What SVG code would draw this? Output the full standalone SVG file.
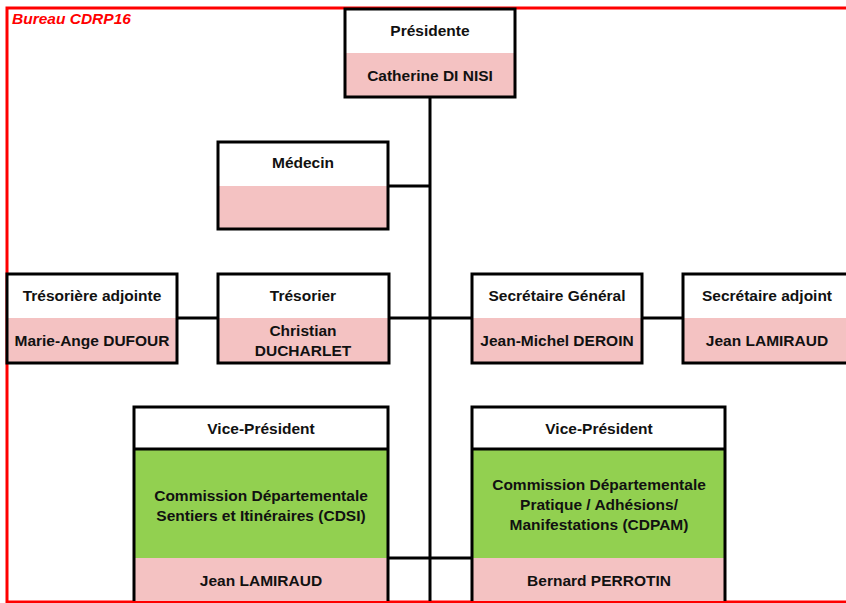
<svg xmlns="http://www.w3.org/2000/svg" width="846" height="603" viewBox="0 0 846 603">
<style>
.t{font-family:"Liberation Sans",Arial,sans-serif;font-weight:bold;font-size:15.5px;fill:#111;text-anchor:middle}
.w{fill:#fff}
.p{fill:#F4C2C2}
.g{fill:#92D050}
.o{fill:none;stroke:#000;stroke-width:3}
.c{stroke:#000;stroke-width:3;fill:none}
</style>
<rect x="0" y="0" width="846" height="603" fill="#fff"/>
<g id="frame">
<rect x="7" y="8" width="860" height="594" fill="none" stroke="#f00" stroke-width="3"/>
<text x="12" y="24" font-family="Liberation Sans,Arial,sans-serif" font-weight="bold" font-style="italic" font-size="15.5" fill="#f00">Bureau CDRP16</text>
</g>
<g id="connectors">
<line class="c" x1="430" y1="97" x2="430" y2="605"/>
<line class="c" x1="388" y1="186" x2="430" y2="186"/>
<line class="c" x1="177" y1="318" x2="218" y2="318"/>
<line class="c" x1="389" y1="318" x2="472" y2="318"/>
<line class="c" x1="642" y1="318" x2="683" y2="318"/>
<line class="c" x1="388" y1="558" x2="472" y2="558"/>
</g>
<g id="presidente">
<rect class="w" x="345" y="9" width="170" height="44"/>
<rect class="p" x="345" y="53" width="170" height="44"/>
<rect class="o" x="345" y="9" width="170" height="88"/>
<text class="t" x="430" y="36">Présidente</text>
<text class="t" x="430" y="81">Catherine DI NISI</text>
</g>
<g id="medecin">
<rect class="w" x="218" y="142" width="170" height="44"/>
<rect class="p" x="218" y="186" width="170" height="43"/>
<rect class="o" x="218" y="142" width="170" height="87"/>
<text class="t" x="303" y="168">Médecin</text>
</g>
<g id="tresoriere-adjointe">
<rect class="w" x="7" y="274" width="170" height="44"/>
<rect class="p" x="7" y="318" width="170" height="45"/>
<rect class="o" x="7" y="274" width="170" height="89"/>
<text class="t" x="92" y="301">Trésorière adjointe</text>
<text class="t" x="92" y="346">Marie-Ange DUFOUR</text>
</g>
<g id="tresorier">
<rect class="w" x="218" y="274" width="171" height="44"/>
<rect class="p" x="218" y="318" width="171" height="45"/>
<rect class="o" x="218" y="274" width="171" height="89"/>
<text class="t" x="303" y="301">Trésorier</text>
<text class="t" x="303" y="336">Christian</text>
<text class="t" x="303" y="356">DUCHARLET</text>
</g>
<g id="secretaire-general">
<rect class="w" x="472" y="274" width="170" height="44"/>
<rect class="p" x="472" y="318" width="170" height="45"/>
<rect class="o" x="472" y="274" width="170" height="89"/>
<text class="t" x="557" y="301">Secrétaire Général</text>
<text class="t" x="557" y="346">Jean-Michel DEROIN</text>
</g>
<g id="secretaire-adjoint">
<rect class="w" x="683" y="274" width="170" height="44"/>
<rect class="p" x="683" y="318" width="170" height="45"/>
<rect class="o" x="683" y="274" width="170" height="89"/>
<text class="t" x="767" y="301">Secrétaire adjoint</text>
<text class="t" x="767" y="346">Jean LAMIRAUD</text>
</g>
<g id="vp-cdsi">
<rect class="w" x="134" y="407" width="254" height="42"/>
<rect class="g" x="134" y="449" width="254" height="109"/>
<rect class="p" x="134" y="558" width="254" height="44"/>
<rect class="o" x="134" y="407" width="254" height="197"/>
<line class="c" x1="134" y1="449" x2="388" y2="449"/>
<text class="t" x="261" y="434">Vice-Président</text>
<text class="t" x="261" y="501">Commission Départementale</text>
<text class="t" x="261" y="521">Sentiers et Itinéraires (CDSI)</text>
<text class="t" x="261" y="586">Jean LAMIRAUD</text>
</g>
<g id="vp-cdpam">
<rect class="w" x="472" y="407" width="253" height="42"/>
<rect class="g" x="472" y="449" width="253" height="109"/>
<rect class="p" x="472" y="558" width="253" height="44"/>
<rect class="o" x="472" y="407" width="253" height="197"/>
<line class="c" x1="472" y1="449" x2="725" y2="449"/>
<text class="t" x="599" y="434">Vice-Président</text>
<text class="t" x="599" y="490">Commission Départementale</text>
<text class="t" x="599" y="510">Pratique / Adhésions/</text>
<text class="t" x="599" y="530">Manifestations (CDPAM)</text>
<text class="t" x="599" y="586">Bernard PERROTIN</text>
</g>
<line x1="7" y1="602" x2="846" y2="602" stroke="#f00" stroke-width="2"/>
</svg>
